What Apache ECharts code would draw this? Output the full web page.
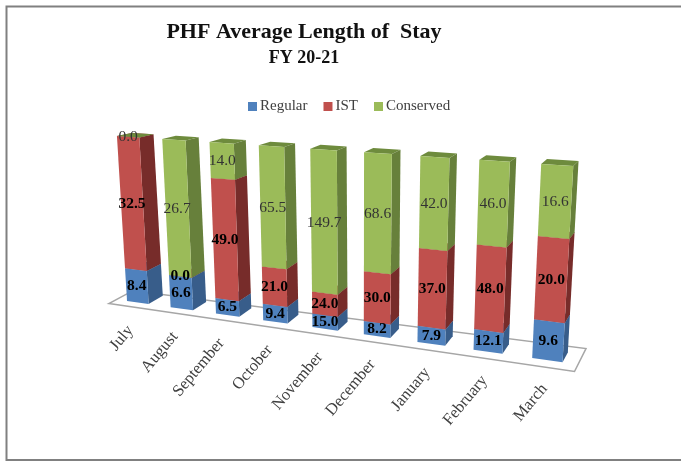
<!DOCTYPE html>
<html>
<head>
<meta charset="utf-8">
<style>html,body{margin:0;padding:0;background:#fff}#main{width:681px;height:462px}</style>
<script src="https://cdn.jsdelivr.net/npm/echarts@6/dist/echarts.min.js"></script>
</head>
<body>
<div id="main"></div>
<script>
var months = ['July','August','September','October','November','December','January','February','March'];
var regular = [8.4, 6.6, 6.5, 9.4, 15.0, 8.2, 7.9, 12.1, 9.6];
var ist = [32.5, 0.0, 49.0, 21.0, 24.0, 30.0, 37.0, 48.0, 20.0];
var conserved = [0.0, 26.7, 14.0, 65.5, 149.7, 68.6, 42.0, 46.0, 16.6];

// colours: front, side, top
var blueC = ['#4f81bd', '#385d8a', '#3f6797'];
var redC = ['#c0504d', '#772c2a', '#8e3b39'];
var greenC = ['#9bbb59', '#67803b', '#6e8b3d'];

var myChart = echarts.init(document.getElementById('main'));

// flat grid, gets bent into the tilted 3d look by project()
var G = {left: 100, top: 100, width: 450, height: 200};
// where the grid corners end up on the page: bottom-left, bottom-right, top-right, top-left
var quad = [[116.4, 299.5], [578, 364.5], [589.6, 167.1], [105.9, 135.3]];
var H = squareToQuad(quad);

function squareToQuad(q) {
    var x0 = q[0][0], y0 = q[0][1], x1 = q[1][0], y1 = q[1][1];
    var x2 = q[2][0], y2 = q[2][1], x3 = q[3][0], y3 = q[3][1];
    var dx1 = x1 - x2, dx2 = x3 - x2, sx = x0 - x1 + x2 - x3;
    var dy1 = y1 - y2, dy2 = y3 - y2, sy = y0 - y1 + y2 - y3;
    var d = dx1 * dy2 - dx2 * dy1;
    var g = (sx * dy2 - dx2 * sy) / d;
    var h = (dx1 * sy - sx * dy1) / d;
    return [x1 - x0 + g * x1, x3 - x0 + h * x3, x0, y1 - y0 + g * y1, y3 - y0 + h * y3, y0, g, h];
}

function lerp(a, b, t) { return a + (b - a) * t; }

// px,py = pixel in the flat grid, w = depth (0 front face, 1 back of bar)
function project(px, py, w) {
    var u = (px - G.left) / G.width;
    var v = (G.top + G.height - py) / G.height;
    var k = H[6] * u + H[7] * v + 1;
    var x = (H[0] * u + H[1] * v + H[2]) / k;
    var y = (H[3] * u + H[4] * v + H[5]) / k;
    var dx = lerp(15, 5, u);
    var dy = lerp(lerp(-8, -10, u), lerp(-3, -5, u), v);
    return [x + dx * w, y + dy * w];
}

function renderSeg(colors) {
    return function (params, api) {
        var i = api.value(0);
        var p0 = api.coord([i, api.value(1)]);
        var p1 = api.coord([i, api.value(2)]);
        var half = api.size([1, 0])[0] * 0.25;
        var l = p0[0] - half, r = p0[0] + half, b = p0[1], t = p1[1];
        var front = [project(l, b, 0), project(r, b, 0), project(r, t, 0), project(l, t, 0)];
        var side = [project(r, b, 0), project(r, b, 1), project(r, t, 1), project(r, t, 0)];
        var top = [project(l, t, 0), project(r, t, 0), project(r, t, 1), project(l, t, 1)];
        var c = project(p0[0], (b + t) / 2, 0);
        return {
            type: 'group',
            children: [
                {type: 'polygon', shape: {points: top}, style: {fill: colors[2]}},
                {type: 'polygon', shape: {points: side}, style: {fill: colors[1]}},
                {type: 'polygon', shape: {points: front}, style: {fill: colors[0]}},
                {
                    type: 'text', z2: 100,
                    style: {
                        x: c[0], y: c[1], text: api.value(3).toFixed(1),
                        align: 'center', verticalAlign: 'middle',
                        fontFamily: 'Liberation Serif', fontSize: 15.5,
                        fontWeight: colors === greenC ? 'normal' : 'bold',
                        fill: colors === greenC ? '#333' : '#000'
                    }
                }
            ]
        };
    };
}

// bottom and top of each segment, in percent of the month's total
function segData(vals, below) {
    return vals.map(function (v, i) {
        var total = regular[i] + ist[i] + conserved[i];
        var start = 0;
        below.forEach(function (a) { start += a[i]; });
        return [i, start / total * 100, (start + v) / total * 100, v];
    });
}

function segSeries(name, vals, below, colors) {
    return {
        name: name, type: 'custom', silent: true,
        itemStyle: {color: colors[0]},
        encode: {x: 0, y: 2},
        renderItem: renderSeg(colors),
        data: segData(vals, below)
    };
}

var option = {
    animation: false,
    backgroundColor: '#fff',
    title: [
        {text: 'PHF Average Length of  Stay', left: 299, top: 16, textAlign: 'center',
         textStyle: {fontFamily: 'Liberation Serif', fontSize: 22, fontWeight: 'bold', color: '#111'}},
        {text: 'FY 20-21', left: 299, top: 44, textAlign: 'center',
         textStyle: {fontFamily: 'Liberation Serif', fontSize: 18, fontWeight: 'bold', color: '#111'}}
    ],
    legend: {
        left: 243, top: 94, icon: 'rect', itemWidth: 9, itemHeight: 9, itemGap: 16, selectedMode: false,
        textStyle: {fontFamily: 'Liberation Serif', fontSize: 15, color: '#404040', padding: [0, 0, 0, -2]},
        data: ['Regular', 'IST', 'Conserved']
    },
    grid: G,
    xAxis: {type: 'category', data: months, show: false},
    yAxis: {type: 'value', min: 0, max: 100, show: false},
    graphic: [
        // frame runs off the right edge, no right side
        {type: 'polyline', shape: {points: [[681, 6.5], [6.5, 6.5], [6.5, 460], [681, 460]]}, style: {fill: 'none', stroke: '#808080', lineWidth: 2}, silent: true}
    ],
    series: [
        {
            // floor of the chart and month names
            type: 'custom', silent: true,
            encode: {x: 0},
            renderItem: function (params, api) {
                var i = api.value(0);
                var p = api.coord([i, 0]);
                var at = project(p[0], p[1], -0.5);
                var kids = [{
                    type: 'text',
                    x: at[0], y: at[1] + 21, rotation: 50 * Math.PI / 180,
                    style: {
                        x: 0, y: 0, text: months[i], align: 'right', verticalAlign: 'middle',
                        fontFamily: 'Liberation Serif', fontSize: 16.5, fill: '#404040'
                    }
                }];
                if (i === 0) {
                    var r = G.left + G.width, b = G.top + G.height;
                    kids.unshift({
                        type: 'polygon',
                        shape: {points: [project(G.left, b, -0.5), project(r, b, -0.7), project(r, b, 1.6), project(G.left, b, 1.1)]},
                        style: {fill: '#fff', stroke: '#a6a6a6', lineWidth: 1.5}
                    });
                }
                return {type: 'group', children: kids};
            },
            data: months.map(function (m, i) { return [i]; })
        },
        segSeries('Regular', regular, [], blueC),
        segSeries('IST', ist, [regular], redC),
        segSeries('Conserved', conserved, [regular, ist], greenC)
    ]
};
myChart.setOption(option);
</script>
</body>
</html>
